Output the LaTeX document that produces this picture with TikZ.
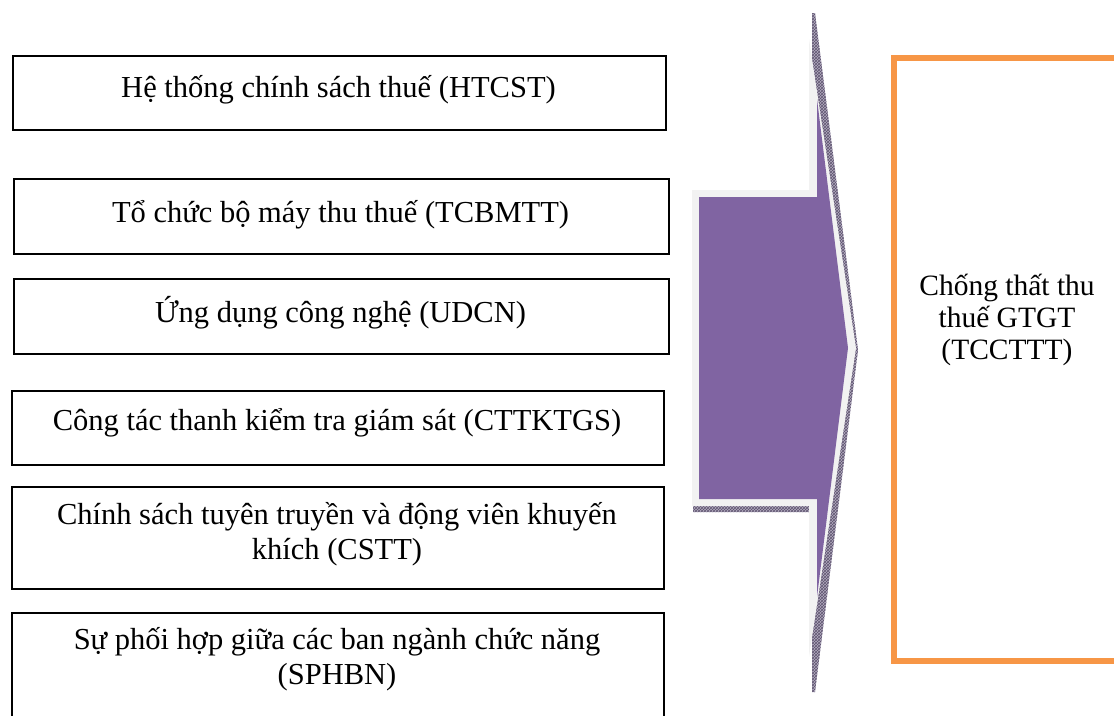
\documentclass[tikz,border=0pt]{standalone}
\usepackage{fontspec}
\setmainfont{Liberation Serif}
\usetikzlibrary{patterns}
\definecolor{accpurple}{HTML}{8064A2}
\definecolor{accorange}{HTML}{F79646}
\definecolor{rimgray}{HTML}{F2F2F2}
\definecolor{shadowc}{HTML}{B3ABC0}
\definecolor{hatchc}{HTML}{5F5570}
\begin{document}
\begin{tikzpicture}[x=1pt,y=-1pt,
  box/.style={draw=black, line width=1.6pt, inner sep=0pt, anchor=north west},
  boxtext/.style={align=center, inner sep=0pt, font=\fontsize{30.5}{35}\selectfont},
  goalbox/.style={draw=accorange, line width=6pt, anchor=north west},
  goaltext/.style={align=center, inner sep=0pt, font=\fontsize{29.5}{32}\selectfont}]
\useasboundingbox (0,0) rectangle (1114,715);

% factor boxes
\node[box, minimum width=653pt, minimum height=74pt] (b1) at (12,55) {};
\node[box, minimum width=655pt, minimum height=75pt] (b2) at (13,178) {};
\node[box, minimum width=655pt, minimum height=75pt] (b3) at (13,278) {};
\node[box, minimum width=652pt, minimum height=74pt] (b4) at (11,390) {};
\node[box, minimum width=652pt, minimum height=102pt] (b5) at (11,486) {};
\node[box, minimum width=652pt, minimum height=108pt] (b6) at (11,612) {};

\node[boxtext] (t1) at (338.5,89.5) {Hệ thống chính sách thuế (HTCST)};
\node[boxtext] (t2) at (340.5,214.5) {Tổ chức bộ máy thu thuế (TCBMTT)};
\node[boxtext] (t3) at (340.5,312.5) {Ứng dụng công nghệ (UDCN)};
\node[boxtext] (t4) at (337,422.5) {Công tác thanh kiểm tra giám sát (CTTKTGS)};
\node[boxtext] (t5) at (337,534.5) {Chính sách tuyên truyền và động viên khuyến\\ khích (CSTT)};
\node[boxtext] (t6) at (337,659.5) {Sự phối hợp giữa các ban ngành chức năng\\ (SPHBN)};

% big arrow: shadow, rim, fill
\fill[shadowc] (693,200) -- (812,200) -- (812,13) -- (815,13) -- (858,350) -- (815,692) -- (812,692) -- (812,512) -- (693,512) -- cycle;
\fill[pattern=crosshatch, pattern color=hatchc] (693,200) -- (812,200) -- (812,13) -- (815,13) -- (858,350) -- (815,692) -- (812,692) -- (812,512) -- (693,512) -- cycle;
\fill[rimgray] (692,190) -- (809,190) -- (809,39) -- (856,348) -- (809,657) -- (809,506) -- (692,506) -- cycle;
\fill[accpurple] (699,197) -- (817,197) -- (817,99) -- (848,348) -- (817,597) -- (817,499) -- (699,499) -- cycle;

% goal box
\node[goalbox, minimum width=234pt, minimum height=603pt] (goal) at (891,55) {};
\node[goaltext] (goaltxt) at (1007,320) {Chống thất thu\\ thuế GTGT\\ (TCCTTT)};
\end{tikzpicture}
\end{document}
